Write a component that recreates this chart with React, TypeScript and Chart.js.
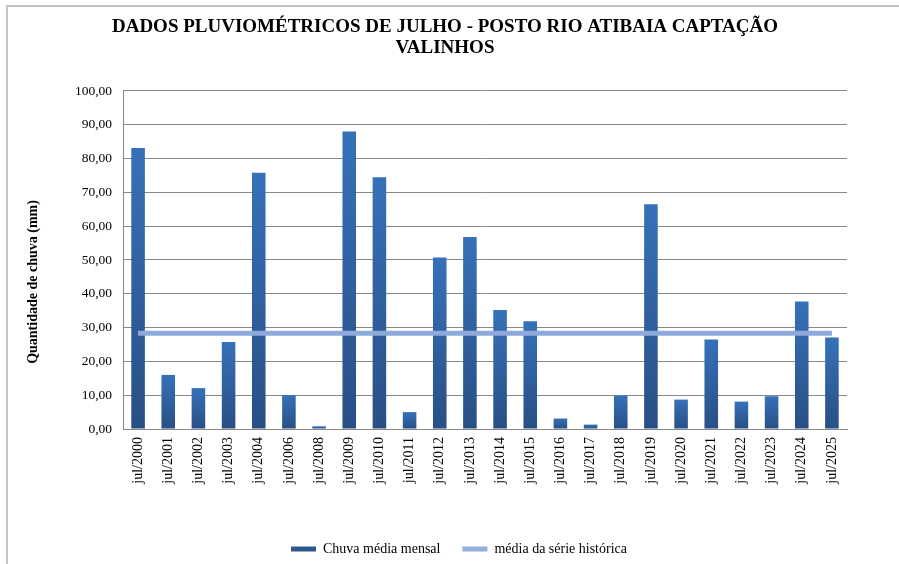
import React, { useEffect, useRef } from "react";
import { Chart, registerables } from "chart.js";

Chart.register(...registerables);

const categories = [
  "jul/2000", "jul/2001", "jul/2002", "jul/2003", "jul/2004", "jul/2006",
  "jul/2008", "jul/2009", "jul/2010", "jul/2011", "jul/2012", "jul/2013",
  "jul/2014", "jul/2015", "jul/2016", "jul/2017", "jul/2018", "jul/2019",
  "jul/2020", "jul/2021", "jul/2022", "jul/2023", "jul/2024", "jul/2025",
];

const chuvaMensal = [
  83.1, 16.0, 12.1, 25.7, 75.8, 10.0,
  0.8, 88.0, 74.5, 5.0, 50.7, 56.8,
  35.2, 31.9, 3.1, 1.3, 9.9, 66.5,
  8.7, 26.5, 8.1, 9.7, 37.7, 27.1,
];

const mediaHistorica = 28.3;
const mediaSerie = categories.map(() => mediaHistorica);

const titleLines = [
  "DADOS PLUVIOMÉTRICOS DE JULHO - POSTO RIO ATIBAIA CAPTAÇÃO",
  "VALINHOS",
];
const yAxisTitle = "Quantidade de chuva (mm)";
const seriesNames = ["Chuva média mensal", "média da série histórica"];

const FONT = "'Liberation Serif', 'Times New Roman', serif";
const W = 899;
const H = 564;
const AREA_RIGHT = 847;
const AREA_LEFT = 123;
const LEGEND_PAD = 22;
const LEGEND_FONT = 14;

export default function App() {
  const ref = useRef<HTMLCanvasElement | null>(null);

  useEffect(() => {
    if (!ref.current) return;

    const positionPlugin = {
      id: "positionBoxes",
      afterLayout(chart: any) {
        const t = chart.titleBlock;
        if (t) {
          const dx = 445 - (t.left + t.right) / 2;
          t.left += dx;
          t.right += dx;
        }
        const l = chart.legend;
        if (l) {
          const dx = 459 - (l.left + l.right) / 2;
          l.left += dx;
          l.right += dx;
          const dy = 549 - (l.top + LEGEND_PAD + LEGEND_FONT / 2);
          l.top += dy;
          l.bottom += dy;
        }
      },
      afterDraw(chart: any) {
        const ctx = chart.ctx;
        ctx.save();
        ctx.translate(33, 282);
        ctx.rotate(-Math.PI / 2);
        ctx.fillStyle = "#000";
        ctx.font = `bold 14px ${FONT}`;
        ctx.textAlign = "center";
        ctx.textBaseline = "middle";
        ctx.fillText(yAxisTitle, 0, 0);
        ctx.restore();
      },
    };

    const chart = new Chart(ref.current, {
      type: "bar",
      data: {
        labels: categories,
        datasets: [
          {
            type: "line",
            label: seriesNames[1],
            data: mediaSerie,
            borderColor: "#8eaadb",
            backgroundColor: "#93afdc",
            borderWidth: 5,
            pointRadius: 0,
            fill: false,
            order: 0,
          } as any,
          {
            type: "bar",
            label: seriesNames[0],
            data: chuvaMensal,
            barPercentage: 0.45,
            categoryPercentage: 1,
            order: 1,
            backgroundColor: (ctx: any) => {
              const chart = ctx.chart;
              const y = chart.scales?.y;
              if (!y || ctx.type !== "data") return "#2d5a92";
              const top = y.getPixelForValue(ctx.parsed.y);
              const bottom = y.getPixelForValue(0);
              if (!isFinite(top) || Math.abs(bottom - top) < 1) return "#3470b6";
              const g = chart.ctx.createLinearGradient(0, top, 0, bottom);
              g.addColorStop(0, "#3671b9");
              g.addColorStop(1, "#294f85");
              return g;
            },
          } as any,
        ],
      },
      options: {
        responsive: false,
        animation: false,
        devicePixelRatio: 1,
        layout: { padding: { left: 0, right: W - AREA_RIGHT, top: 0, bottom: 0 } },
        plugins: {
          title: {
            display: true,
            text: titleLines,
            color: "#000",
            font: { family: FONT, size: 19, weight: "bold", lineHeight: 1.12 },
            padding: { top: 16.4, bottom: 32 },
          },
          legend: {
            display: true,
            position: "bottom",
            reverse: true,
            labels: {
              color: "#000",
              font: { family: FONT, size: LEGEND_FONT },
              boxWidth: 25,
              boxHeight: 5,
              padding: LEGEND_PAD,
              generateLabels: (chart: any) => {
                const ds = chart.data.datasets;
                return ds.map((d: any, i: number) => ({
                  text: d.label,
                  fillStyle: i === 1 ? "#2c578f" : "#93afdc",
                  strokeStyle: "rgba(0,0,0,0)",
                  lineWidth: 0,
                  hidden: false,
                  datasetIndex: i,
                }));
              },
            },
          },
          tooltip: { enabled: false },
        },
        scales: {
          x: {
            grid: { display: false, drawTicks: false },
            border: { display: true, color: "#888", width: 1 },
            ticks: {
              color: "#000",
              font: { family: FONT, size: 14 },
              maxRotation: 90,
              minRotation: 90,
              padding: 8,
              autoSkip: false,
            },
            afterFit(scale: any) {
              scale.height = 89;
            },
          },
          y: {
            min: 0,
            max: 100,
            grid: { color: "#888", lineWidth: 1, drawTicks: false },
            border: { display: true, color: "#888", width: 1 },
            ticks: {
              stepSize: 10,
              color: "#000",
              font: { family: FONT, size: 13.5 },
              padding: 11,
              callback: (v: any) => Number(v).toFixed(2).replace(".", ","),
            },
            title: { display: false },
            afterFit(scale: any) {
              scale.width = AREA_LEFT;
            },
          },
        },
      } as any,
      plugins: [positionPlugin],
    });

    return () => chart.destroy();
  }, []);

  return (
    <div
      style={{
        position: "fixed",
        left: 0,
        top: 0,
        width: W,
        height: H,
        background: "#fff",
        overflow: "hidden",
      }}
    >
      <div
        style={{
          position: "absolute",
          left: 6,
          top: 5,
          width: W,
          height: H,
          borderLeft: "2px solid #c4c4c4",
          borderTop: "2px solid #c4c4c4",
          boxSizing: "border-box",
        }}
      />
      <canvas
        ref={ref}
        width={W}
        height={H}
        style={{ position: "absolute", left: 0, top: 0, width: W, height: H }}
      />
    </div>
  );
}
